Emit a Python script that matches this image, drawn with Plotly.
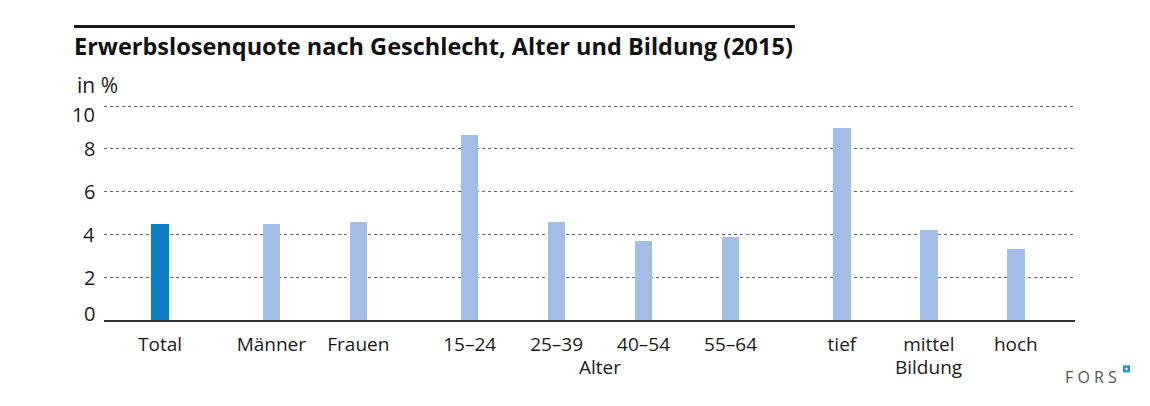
import plotly.graph_objects as go

# ---- data ----
categories = ["Total", "Männer", "Frauen", "15–24", "25–39", "40–54", "55–64", "tief", "mittel", "hoch"]
groups = ["Total", "Geschlecht", "Geschlecht", "Alter", "Alter", "Alter", "Alter", "Bildung", "Bildung", "Bildung"]
values = [4.5, 4.5, 4.6, 8.65, 4.6, 3.7, 3.9, 9.0, 4.2, 3.3]
y_ticks = [0, 2, 4, 6, 8, 10]

title = "Erwerbslosenquote nach Geschlecht, Alter und Bildung (2015)"

# ---- layout helpers ----
W, H = 1150, 406
PX_PER_UNIT = 21.43
YMAX = 10.1
PL, PR, PB = 104, 1075, 320
PT = PB - YMAX * PX_PER_UNIT
GAP = 0.28

positions = []
g_idx = 0
for i, g in enumerate(groups):
    if i > 0 and g != groups[i - 1]:
        g_idx += 1
    positions.append(i + g_idx * GAP)

colors = ["#0C7FC6" if g == "Total" else "#A2BEE6" for g in groups]

FONT = "Open Sans"
TXT = "#1a1a1a"


def px_x(px):
    return (px - PL) / (PR - PL)


def px_y(py):
    return (PB - py) / (PB - PT)


fig = go.Figure()
fig.add_trace(go.Bar(
    x=positions, y=values, width=0.2,
    marker=dict(color=colors, line=dict(width=0)),
    hoverinfo="skip",
))

annotations = []
# y tick labels (kept inside the plot's vertical span, like the original)
for t in y_ticks:
    shift = -8 if t == max(y_ticks) else (7 if t == min(y_ticks) else 0)
    annotations.append(dict(
        x=0, xref="paper", xanchor="right", xshift=-7,
        y=t, yref="y", yanchor="middle", yshift=shift,
        text=str(t), showarrow=False,
        font=dict(family=FONT, size=20, color=TXT),
    ))

for name in ["Alter", "Bildung"]:
    xs = [p for p, g in zip(positions, groups) if g == name]
    annotations.append(dict(
        x=(min(xs) + max(xs)) / 2, xref="x",
        y=px_y(367), yref="paper", yanchor="middle",
        text=name, showarrow=False,
        font=dict(family=FONT, size=19, color=TXT),
    ))

annotations.append(dict(
    x=px_x(75), xref="paper", xanchor="left",
    y=px_y(85), yref="paper", yanchor="middle",
    text="in %", showarrow=False,
    font=dict(family=FONT, size=21, color=TXT),
))

annotations.append(dict(
    x=px_x(1091), xref="paper", xanchor="center",
    y=px_y(377), yref="paper", yanchor="middle",
    text="F O R S", showarrow=False,
    font=dict(family=FONT, size=16, color="#555555"),
))

shapes = [
    dict(type="line", xref="paper", yref="paper",
         x0=px_x(74), x1=px_x(795), y0=px_y(26), y1=px_y(26),
         line=dict(color="#1a1a1a", width=3)),
    dict(type="rect", xref="paper", yref="paper",
         x0=px_x(1123), x1=px_x(1130), y0=px_y(372.5), y1=px_y(365.5),
         fillcolor="#1E8FD6", line=dict(width=0)),
    dict(type="line", xref="paper", yref="paper",
         x0=px_x(1124.8), x1=px_x(1128.2), y0=px_y(369), y1=px_y(369),
         line=dict(color="white", width=1)),
    dict(type="line", xref="paper", yref="paper",
         x0=px_x(1126.5), x1=px_x(1126.5), y0=px_y(367.3), y1=px_y(370.7),
         line=dict(color="white", width=1)),
]

fig.update_layout(
    width=W, height=H,
    margin=dict(l=PL, r=W - PR, t=PT, b=H - PB, pad=0),
    paper_bgcolor="white", plot_bgcolor="white",
    showlegend=False,
    bargap=0,
    title=dict(
        text="<b>" + title + "</b>",
        x=74 / W, xanchor="left", xref="container",
        y=1 - 47 / H, yanchor="middle", yref="container",
        font=dict(family=FONT, size=23.5, color="#111111"),
    ),
    xaxis=dict(
        range=[-0.644, 10.52],
        tickmode="array", tickvals=positions, ticktext=categories,
        showgrid=False, zeroline=False,
        showline=True, linecolor="#333333", linewidth=1.5,
        ticks="", ticklabelstandoff=6,
        tickfont=dict(family=FONT, size=19, color=TXT),
        fixedrange=True,
    ),
    yaxis=dict(
        range=[0, YMAX],
        tickmode="array", tickvals=y_ticks,
        showticklabels=False,
        showgrid=True, gridcolor="#666666", griddash="dot", gridwidth=1,
        zeroline=False, showline=False, ticks="",
        fixedrange=True,
    ),
    annotations=annotations,
    shapes=shapes,
)

fig.write_html("out.html", config={"displayModeBar": False},
               post_script="document.body.style.margin='0';")
